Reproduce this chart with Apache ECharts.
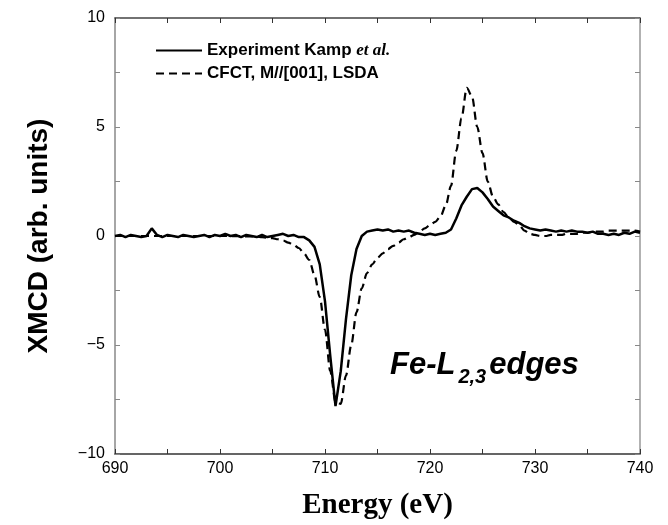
<!DOCTYPE html>
<html>
<head>
<meta charset="utf-8">
<script src="https://cdn.jsdelivr.net/npm/echarts@6/dist/echarts.min.js"></script>
<style>
  html, body { margin: 0; padding: 0; background: #fff; }
  #main { width: 668px; height: 525px; }
</style>
</head>
<body>
<div id="main"></div>
<script>
// photon energy (eV), 0.5 eV step
var energy = [
  690, 690.5, 691, 691.5, 692, 692.5, 693, 693.5, 694, 694.5,
  695, 695.5, 696, 696.5, 697, 697.5, 698, 698.5, 699, 699.5,
  700, 700.5, 701, 701.5, 702, 702.5, 703, 703.5, 704, 704.5,
  705, 705.5, 706, 706.5, 707, 707.5, 708, 708.5, 709, 709.5,
  710, 710.5, 711, 711.5, 712, 712.5, 713, 713.5, 714, 714.5,
  715, 715.5, 716, 716.5, 717, 717.5, 718, 718.5, 719, 719.5,
  720, 720.5, 721, 721.5, 722, 722.5, 723, 723.5, 724, 724.5,
  725, 725.5, 726, 726.5, 727, 727.5, 728, 728.5, 729, 729.5,
  730, 730.5, 731, 731.5, 732, 732.5, 733, 733.5, 734, 734.5,
  735, 735.5, 736, 736.5, 737, 737.5, 738, 738.5, 739, 739.5,
  740
];

// Experiment Kamp et al. (solid)
var expXmcd = [
  0.0, 0.05, -0.05, 0.05, 0.0, -0.05, 0.0, 0.35, 0.05, -0.05,
  0.05, 0.0, -0.05, 0.05, 0.0, -0.05, 0.0, 0.05, -0.05, 0.05,
  0.0, 0.1, 0.0, 0.05, -0.05, 0.05, 0.0, -0.05, 0.05, -0.05,
  0.0, 0.05, 0.1, 0.0, 0.05, -0.05, -0.05, -0.2, -0.5, -1.3,
  -3.0, -5.5, -7.8, -6.2, -3.8, -1.8, -0.6, 0.0, 0.2, 0.25,
  0.3, 0.25, 0.3, 0.2, 0.25, 0.2, 0.25, 0.15, 0.1, 0.05,
  0.1, 0.05, 0.1, 0.15, 0.3, 0.8, 1.4, 1.8, 2.15, 2.2,
  2.0, 1.7, 1.35, 1.15, 0.95, 0.85, 0.7, 0.6, 0.45, 0.35,
  0.3, 0.25, 0.3, 0.25, 0.2, 0.25, 0.2, 0.25, 0.2, 0.2,
  0.15, 0.2, 0.1, 0.1, 0.05, 0.1, 0.05, 0.15, 0.1, 0.2,
  0.15
];

// CFCT, M//[001], LSDA (dashed)
var calcXmcd = [
  0.0, 0.0, 0.0, 0.0, 0.0, 0.0, 0.0, 0.0, 0.0, 0.0,
  0.0, 0.0, 0.0, 0.0, 0.0, 0.0, 0.0, 0.0, 0.0, 0.0,
  0.0, 0.0, 0.0, -0.01, -0.01, -0.02, -0.02, -0.03, -0.05, -0.08,
  -0.1, -0.15, -0.2, -0.3, -0.4, -0.55, -0.8, -1.1, -1.8, -2.8,
  -4.3, -6.2, -7.6, -7.7, -6.4, -5.0, -3.5, -2.4, -1.7, -1.3,
  -1.0, -0.8, -0.6, -0.45, -0.3, -0.15, -0.05, 0.05, 0.2, 0.35,
  0.5, 0.65, 0.9, 1.4, 2.3, 3.9, 5.4, 6.8, 6.4, 5.0,
  3.8, 2.5, 1.8, 1.45, 1.1, 0.85, 0.65, 0.5, 0.25, 0.1,
  0.05, 0.0, 0.0, 0.05, 0.05, 0.05, 0.1, 0.1, 0.1, 0.15,
  0.15, 0.2, 0.2, 0.2, 0.25, 0.25, 0.25, 0.25, 0.25, 0.25,
  0.2
];

var xTicks = [690, 700, 710, 720, 730, 740];
var yTicks = [-10, -5, 0, 5, 10];

function pairs(xs, ys) {
  return xs.map(function (x, i) { return [x, ys[i]]; });
}
function minus(v) {
  return v < 0 ? '\u2212' + Math.abs(v) : String(v);
}

var chart = echarts.init(document.getElementById('main'), null, { renderer: 'canvas' });

var tickDark = { show: true, inside: true, length: 5, lineStyle: { color: '#333', width: 1 } };
var tickGrey = { show: true, inside: true, length: 5, lineStyle: { color: '#888', width: 1 } };

var option = {
  backgroundColor: '#fff',
  animation: false,
  grid: { left: 115, right: 28, top: 18, bottom: 71 },
  legend: {
    orient: 'vertical',
    left: 150,
    top: 37,
    itemWidth: 46,
    itemHeight: 12,
    itemGap: 6,
    itemStyle: { opacity: 0 },
    data: ['Experiment Kamp et al.', 'CFCT, M//[001], LSDA'],
    formatter: function (name) {
      if (name === 'Experiment Kamp et al.') {
        return '{b|Experiment Kamp }{i|et al.}';
      }
      return '{b|' + name + '}';
    },
    textStyle: {
      rich: {
        b: { fontFamily: 'Liberation Sans', fontWeight: 'bold', fontSize: 17, color: '#000' },
        i: { fontFamily: 'Liberation Serif', fontWeight: 'bold', fontStyle: 'italic', fontSize: 17, color: '#000' }
      }
    }
  },
  xAxis: [{
    type: 'value',
    position: 'bottom',
    min: 690,
    max: 740,
    interval: 5,
    axisLine: { onZero: false, lineStyle: { color: '#333', width: 1.5 } },
    axisTick: tickDark,
    splitLine: { show: false },
    axisLabel: {
      margin: 7,
      fontFamily: 'Liberation Sans',
      fontSize: 16,
      color: '#000',
      formatter: function (v) { return xTicks.indexOf(v) >= 0 ? String(v) : ''; }
    },
    name: 'Energy (eV)',
    nameLocation: 'middle',
    nameGap: 37,
    nameTextStyle: { fontFamily: 'Liberation Serif', fontWeight: 'bold', fontSize: 29, color: '#000' }
  }, {
    type: 'value',
    position: 'top',
    min: 690,
    max: 740,
    interval: 5,
    axisLine: { show: true, onZero: false, lineStyle: { color: '#444', width: 1.5 } },
    axisTick: tickDark,
    axisLabel: { show: false },
    splitLine: { show: false }
  }],
  yAxis: [{
    type: 'value',
    position: 'left',
    min: -10,
    max: 10,
    interval: 2.5,
    axisLine: { show: true, onZero: false, lineStyle: { color: '#888', width: 1.5 } },
    axisTick: tickGrey,
    splitLine: { show: false },
    axisLabel: {
      margin: 10,
      fontFamily: 'Liberation Sans',
      fontSize: 16,
      color: '#000',
      formatter: function (v) { return yTicks.indexOf(v) >= 0 ? minus(v) : ''; }
    },
    name: 'XMCD (arb. units)',
    nameLocation: 'middle',
    nameGap: 62,
    nameTextStyle: { fontFamily: 'Liberation Sans', fontWeight: 'bold', fontSize: 28, color: '#000' }
  }, {
    type: 'value',
    position: 'right',
    min: -10,
    max: 10,
    interval: 2.5,
    axisLine: { show: true, onZero: false, lineStyle: { color: '#999', width: 1.5 } },
    axisTick: tickGrey,
    axisLabel: { show: false },
    splitLine: { show: false }
  }],
  graphic: [{
    type: 'text',
    left: 390,
    top: 350,
    style: {
      text: '{a|Fe-L}{s|2,3}{a|edges}',
      rich: {
        a: { fontFamily: 'Liberation Sans', fontWeight: 'bold', fontStyle: 'italic', fontSize: 31, lineHeight: 44, verticalAlign: 'middle', fill: '#000' },
        s: { fontFamily: 'Liberation Sans', fontWeight: 'bold', fontStyle: 'italic', fontSize: 20, lineHeight: 20, verticalAlign: 'bottom', padding: [0, 3, 0, 3], fill: '#000' }
      }
    }
  }],
  series: [{
    name: 'Experiment Kamp et al.',
    type: 'line',
    xAxisIndex: 0,
    yAxisIndex: 0,
    data: pairs(energy, expXmcd),
    showSymbol: false,
    symbol: 'none',
    smooth: false,
    lineStyle: { color: '#000', width: 2.5, type: 'solid' },
    itemStyle: { color: '#000' }
  }, {
    name: 'CFCT, M//[001], LSDA',
    type: 'line',
    xAxisIndex: 0,
    yAxisIndex: 0,
    data: pairs(energy, calcXmcd),
    showSymbol: false,
    symbol: 'none',
    smooth: 0.3,
    smoothMonotone: 'x',
    lineStyle: { color: '#000', width: 2.2, type: [8, 5] },
    itemStyle: { color: '#000' }
  }]
};

chart.setOption(option);
</script>
</body>
</html>
